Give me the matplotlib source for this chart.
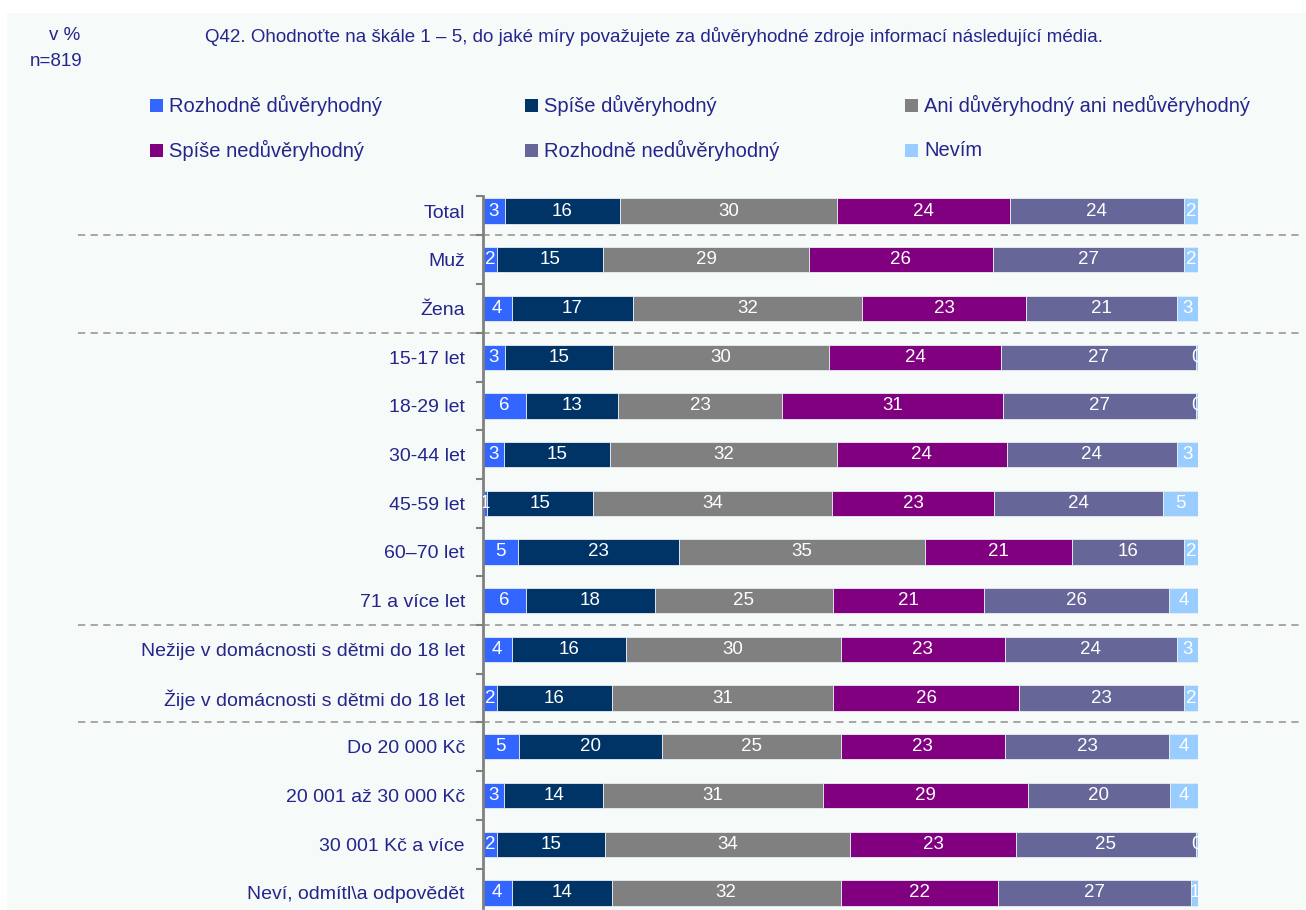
import numpy as np
import matplotlib
matplotlib.use("Agg")
import matplotlib.pyplot as plt
from matplotlib.patches import Rectangle
import matplotlib.transforms as mtransforms

plt.rcParams['font.family'] = ['Liberation Sans Narrow', 'Liberation Sans', 'DejaVu Sans']

# data
categories = ["Total", "Muž", "Žena", "15-17 let", "18-29 let", "30-44 let", "45-59 let",
              "60–70 let", "71 a více let", "Nežije v domácnosti s dětmi do 18 let",
              "Žije v domácnosti s dětmi do 18 let", "Do 20 000 Kč", "20 001 až 30 000 Kč",
              "30 001 Kč a více", "Neví, odmítl\\a odpovědět"]
series = ["Rozhodně důvěryhodný", "Spíše důvěryhodný", "Ani důvěryhodný ani nedůvěryhodný",
          "Spíše nedůvěryhodný", "Rozhodně nedůvěryhodný", "Nevím"]
rozhodne_duv = [3, 2, 4, 3, 6, 3, 0.6, 5, 6, 4, 2, 5, 3, 2, 4]
spise_duv = [16, 15, 17, 15, 13, 15, 15, 23, 18, 16, 16, 20, 14, 15, 14]
ani = [30, 29, 32, 30, 23, 32, 34, 35, 25, 30, 31, 25, 31, 34, 32]
spise_ned = [24, 26, 23, 24, 31, 24, 23, 21, 21, 23, 26, 23, 29, 23, 22]
rozhodne_ned = [24, 27, 21, 27, 27, 24, 24, 16, 26, 24, 23, 23, 20, 25, 27]
nevim = [2, 2, 3, 0.3, 0.3, 3, 5, 2, 4, 3, 2, 4, 4, 0.3, 1]
colors = ["#3366FF", "#003366", "#808080", "#800080", "#666699", "#99CCFF"]
separators = [0.5, 2.5, 8.5, 10.5]

txt_color = "#25258C"
bg = "#F6FAF8"

data = np.array([rozhodne_duv, spise_duv, ani, spise_ned, rozhodne_ned, nevim], dtype=float)
shares = data / data.sum(axis=0) * 100

W, H = 1306, 910
fig = plt.figure(figsize=(W / 100, H / 100), dpi=100, facecolor="white")
fig.patches.append(Rectangle((7 / W, 0), 1, 1 - 13 / H, transform=fig.transFigure,
                             facecolor=bg, edgecolor="none", zorder=-10))

ax = fig.add_axes([483 / W, 1 - 908 / H, (1198 - 483) / W, (908 - 196) / H])
ax.set_facecolor("none")

y = np.arange(len(categories))
left = np.zeros(len(categories))
for i, name in enumerate(series):
    ax.barh(y, shares[i], left=left, height=0.52, color=colors[i],
            edgecolor="#E8EEF4", linewidth=0.6, label=name)
    for j in range(len(categories)):
        val = data[i, j]
        ax.text(left[j] + shares[i, j] / 2, y[j], f"{int(val + 0.5)}", color="white",
                ha="center", va="center", fontsize=13.5, clip_on=True)
    left += shares[i]

ax.set_xlim(0, 100)
ax.set_ylim(14.31, -0.31)
ax.set_yticks(y)
ax.set_yticklabels(categories, color=txt_color, fontsize=14)
ax.tick_params(axis="y", which="major", length=0, pad=13)
ax.set_yticks(list(np.arange(0.5, 14, 1)) + [-0.31], minor=True)
ax.tick_params(axis="y", which="minor", length=5, width=1.5, color="#808080")
ax.set_xticks([])
for s in ["top", "right", "bottom"]:
    ax.spines[s].set_visible(False)
ax.spines["left"].set_color("#808080")
ax.spines["left"].set_linewidth(2)

# dashed group separators spanning the figure width
trans = mtransforms.blended_transform_factory(fig.transFigure, ax.transData)
for sy in separators:
    ax.plot([78 / W, 1300 / W], [sy, sy], transform=trans, color="#A0A0A0",
            linestyle=(0, (4, 3)), linewidth=1.3, clip_on=False, zorder=0)

# header texts
fig.text(80 / W, 1 - 36 / H, "v %", ha="right", va="center", color=txt_color, fontsize=13.5)
fig.text(82 / W, 1 - 62 / H, "n=819", ha="right", va="center", color=txt_color, fontsize=13.5)
fig.text(205 / W, 1 - 36 / H,
         "Q42. Ohodnoťte na škále 1 – 5, do jaké míry považujete za důvěryhodné zdroje informací následující média.",
         ha="left", va="center", color=txt_color, fontsize=13.5)

# legend, row-wise
col_x = [150, 525, 905]
row_y = [105, 150]
for k, name in enumerate(series):
    cx = col_x[k % 3]
    cy = row_y[k // 3]
    fig.patches.append(Rectangle((cx / W, 1 - (cy + 6.5) / H), 13 / W, 13 / H,
                                 transform=fig.transFigure, facecolor=colors[k],
                                 edgecolor="none"))
    fig.text((cx + 19) / W, 1 - cy / H, name, ha="left", va="center",
             color=txt_color, fontsize=14.5)

fig.savefig("out.png", dpi=100, facecolor=fig.get_facecolor())
